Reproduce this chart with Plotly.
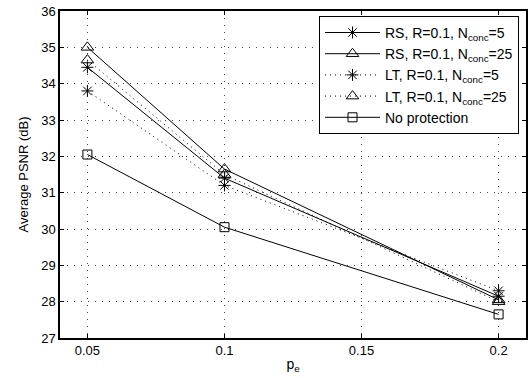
import plotly.graph_objects as go

pe = [0.05, 0.1, 0.2]
rs_n5 = [34.45, 31.4, 28.15]
rs_n25 = [35.0, 31.65, 28.05]
lt_n5 = [33.8, 31.2, 28.3]
lt_n25 = [34.65, 31.5, 28.0]
no_prot = [32.05, 30.05, 27.65]

names = ["RS, R=0.1, N<sub>conc</sub>=5", "RS, R=0.1, N<sub>conc</sub>=25",
         "LT, R=0.1, N<sub>conc</sub>=5", "LT, R=0.1, N<sub>conc</sub>=25",
         "No protection"]
series = [rs_n5, rs_n25, lt_n5, lt_n25, no_prot]
dashes = ["solid", "solid", "1px,4px", "1px,4px", "solid"]
symbols = ["asterisk-open", "triangle-up-open", "asterisk-open", "triangle-up-open", "square-open"]
sizes = [10, 11, 10, 11, 9]

fig = go.Figure()
for n, s, d, sym, sz in zip(names, series, dashes, symbols, sizes):
    fig.add_trace(go.Scatter(
        x=pe, y=s, name=n, mode="lines+markers",
        line=dict(color="black", width=1, dash=d),
        marker=dict(symbol=sym, size=sz, color="black", line=dict(color="black", width=1)),
    ))

axis_common = dict(
    showline=True, linecolor="black", linewidth=1.5, mirror="ticks",
    ticks="inside", ticklen=4, tickcolor="black",
    showgrid=True, gridcolor="#444", griddash="1px,6px", gridwidth=1,
    zeroline=False, tickfont=dict(size=13, color="black"),
)
fig.update_xaxes(range=[0.04, 0.21], tickvals=[0.05, 0.1, 0.15, 0.2],
                 ticktext=["0.05", "0.1", "0.15", "0.2"],
                 title=dict(text="p<sub>e</sub>", font=dict(size=14, color="black"), standoff=2),
                 **axis_common)
fig.update_yaxes(range=[27, 36], dtick=1,
                 title=dict(text="Average PSNR (dB)", font=dict(size=13, color="black"), standoff=10),
                 **axis_common)

fig.update_layout(
    width=532, height=378,
    margin=dict(l=60, r=4, t=8, b=40),
    paper_bgcolor="white", plot_bgcolor="white",
    font=dict(family="Liberation Sans, Arial, sans-serif", color="black"),
    legend=dict(x=0.985, y=0.985, xanchor="right", yanchor="top",
                bgcolor="white", bordercolor="black", borderwidth=1,
                font=dict(size=14, color="black"), tracegroupgap=0,
                itemwidth=55),
    showlegend=True,
)

fig.write_html("out.html")
